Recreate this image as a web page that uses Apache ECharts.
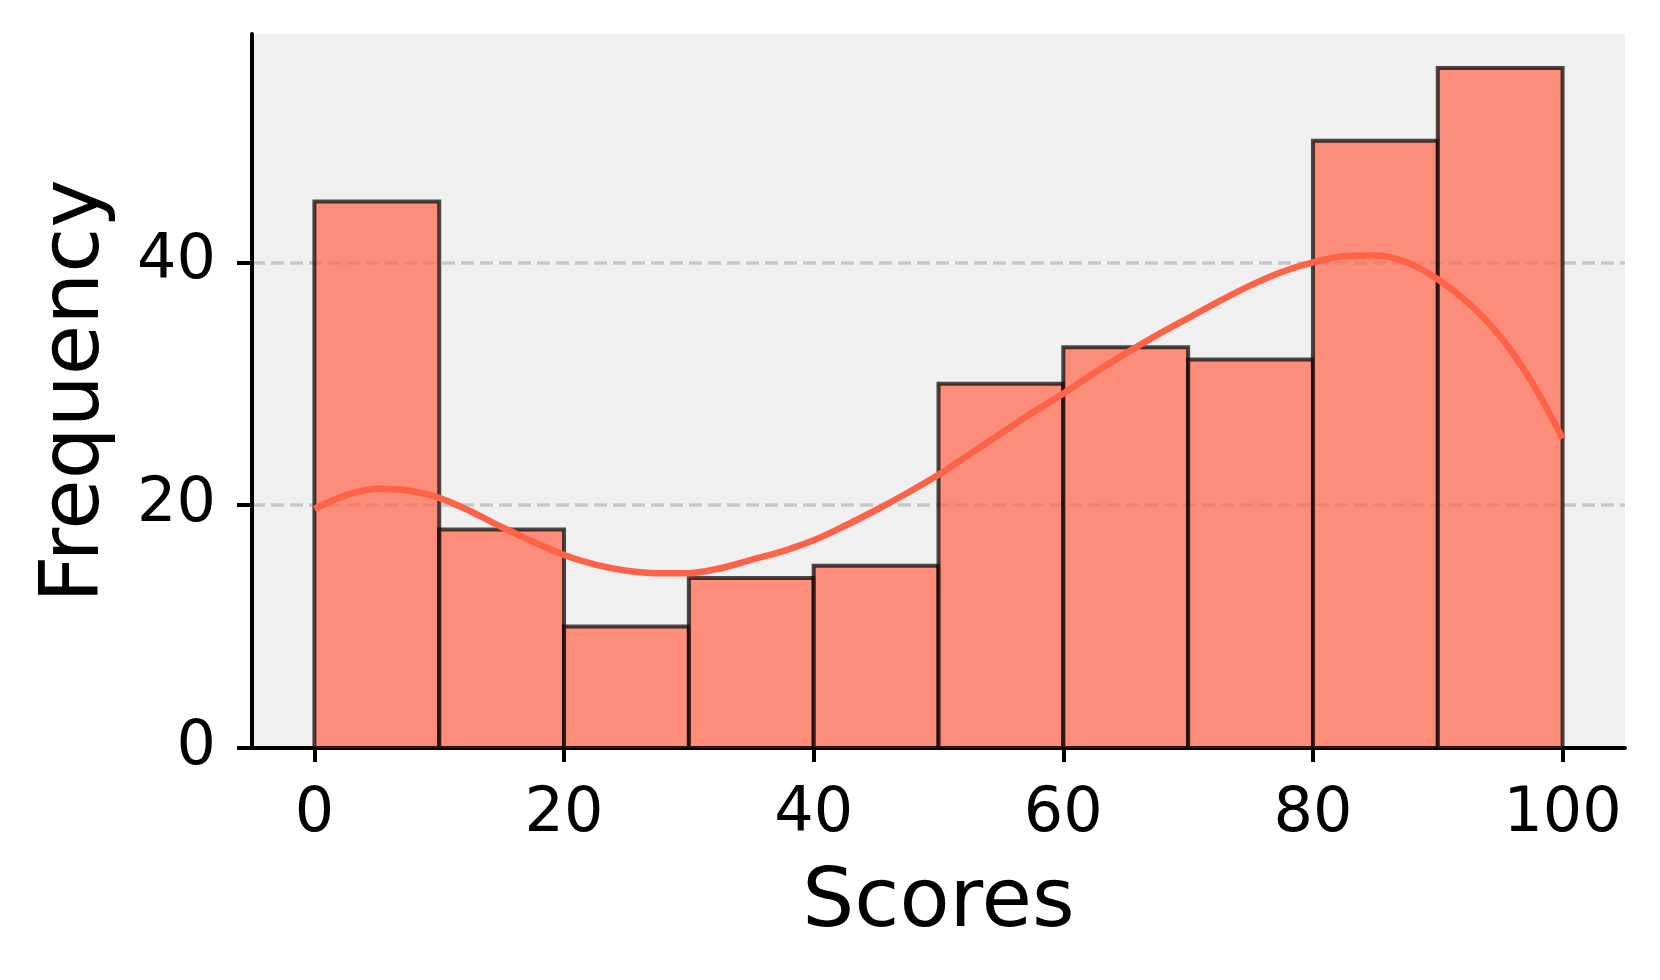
<!DOCTYPE html>
<html>
<head>
<meta charset="utf-8">
<script src="https://cdn.jsdelivr.net/npm/echarts@6/dist/echarts.min.js"></script>
<style>
  html, body { margin: 0; padding: 0; background: #fff; }
  #chart { width: 1660px; height: 980px; }
</style>
</head>
<body>
<div id="chart"></div>
<script>
// histogram bins (score ranges) and counts
var binStarts = [0, 10, 20, 30, 40, 50, 60, 70, 80, 90]
var binEnds = [10, 20, 30, 40, 50, 60, 70, 80, 90, 100]
var counts = [45, 18, 10, 14, 15, 30, 33, 32, 50, 56]

// kde curve
var kdeX = [0, 2.5, 5, 7.5, 10, 12.5, 15, 17.5, 20, 22.5, 25, 27.5, 30, 32.5, 35, 37.5, 40,
  42.5, 45, 47.5, 50, 52.5, 55, 57.5, 60, 62.5, 65, 67.5, 70, 72.5, 75, 77.5, 80,
  82.5, 85, 87.5, 90, 92.5, 95, 97.5, 100]
var kdeY = [19.7, 20.8, 21.35, 21.2, 20.6, 19.5, 18.2, 17.0, 15.9, 15.1, 14.6, 14.4, 14.4, 14.8, 15.5, 16.2, 17.1,
  18.3, 19.6, 21.0, 22.5, 24.2, 25.9, 27.6, 29.2, 30.9, 32.5, 34.0, 35.4, 36.8, 38.1, 39.2, 40.0,
  40.5, 40.55, 40.0, 38.6, 36.6, 33.9, 30.2, 25.5]

var xTicks = [0, 20, 40, 60, 80, 100]
var yTicks = [0, 20, 40]

var font = 'DejaVu Sans'

var histData = binStarts.map(function (s, i) {
  return [s, binEnds[i], counts[i]]
})
var kdeData = kdeX.map(function (x, i) {
  return [x, kdeY[i]]
})

var myChart = echarts.init(document.getElementById('chart'))
myChart.setOption({
  animation: false,
  grid: {
    left: 252,
    right: 35,
    top: 34,
    bottom: 232,
    show: true,
    backgroundColor: '#f0f0f0',
    borderWidth: 0
  },
  xAxis: {
    type: 'value',
    min: -5,
    max: 105,
    name: 'Scores',
    nameLocation: 'middle',
    nameGap: 116,
    nameTextStyle: { fontFamily: font, fontSize: 82, color: '#000' },
    axisLine: { show: true, onZero: false, lineStyle: { color: '#000', width: 4 } },
    axisTick: { show: true, length: 14, customValues: xTicks, lineStyle: { color: '#000', width: 4 } },
    axisLabel: { customValues: xTicks, margin: 36, fontFamily: font, fontSize: 62, color: '#000' },
    splitLine: { show: false }
  },
  yAxis: {
    type: 'value',
    min: 0,
    max: 58.8,
    interval: 20,
    name: 'Frequency',
    nameLocation: 'middle',
    nameGap: 134,
    nameTextStyle: { fontFamily: font, fontSize: 82, color: '#000' },
    axisLine: { show: true, onZero: false, lineStyle: { color: '#000', width: 4 } },
    axisTick: { show: true, length: 15, customValues: yTicks, lineStyle: { color: '#000', width: 4 } },
    axisLabel: { customValues: yTicks, margin: 36, fontFamily: font, fontSize: 62, color: '#000' },
    splitLine: {
      show: true,
      lineStyle: { color: '#c8c8c8', width: 3.5, type: [13, 6] }
    }
  },
  series: [
    {
      type: 'custom',
      data: histData,
      encode: { x: [0, 1], y: 2 },
      renderItem: function (params, api) {
        var p0 = api.coord([api.value(0), api.value(2)])
        var p1 = api.coord([api.value(1), 0])
        return {
          type: 'rect',
          shape: { x: p0[0], y: p0[1], width: p1[0] - p0[0], height: p1[1] - p0[1] },
          style: {
            fill: 'rgba(255,99,71,0.7)',
            stroke: 'rgba(0,0,0,0.7)',
            lineWidth: 4
          }
        }
      },
      z: 2
    },
    {
      type: 'line',
      data: kdeData,
      smooth: 0.3,
      showSymbol: false,
      lineStyle: { color: '#ff6347', width: 6.5 },
      z: 3
    }
  ]
})
</script>
</body>
</html>
